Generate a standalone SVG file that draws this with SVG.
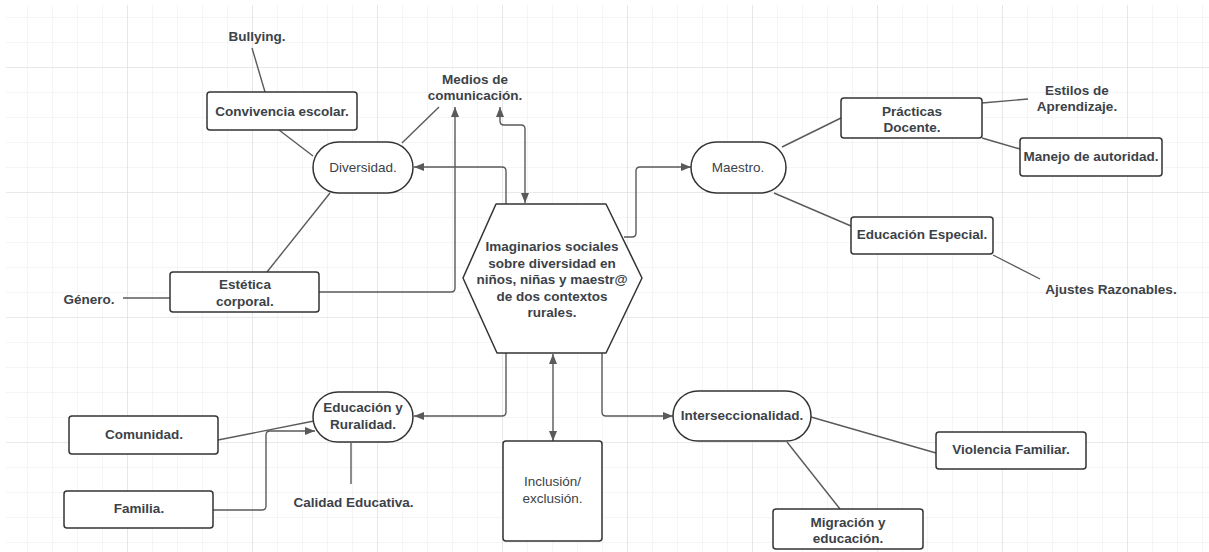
<svg xmlns="http://www.w3.org/2000/svg" width="1209" height="552" viewBox="0 0 1209 552">
<defs>
<pattern id="gMinor" patternUnits="userSpaceOnUse" x="2" y="17" width="25" height="25">
<path d="M0,0 V25 M0,0 H25" fill="none" stroke="#ececec" stroke-width="1"/>
</pattern>
<pattern id="gMajor" patternUnits="userSpaceOnUse" x="2" y="67" width="125" height="125">
<path d="M0,0 V125 M0,0 H125" fill="none" stroke="#dedede" stroke-width="1.2"/>
</pattern>
<marker id="arr" viewBox="0 0 10 8" refX="10" refY="4" markerWidth="10" markerHeight="8" markerUnits="userSpaceOnUse" orient="auto-start-reverse">
<path d="M0,0 L10,4 L0,8 Z" fill="#5a5a5a"/>
</marker>
<style>
.box{fill:#fff;stroke:#333;stroke-width:1.5}
.ln{fill:none;stroke:#5a5a5a;stroke-width:1.4}
.ar{fill:none;stroke:#5a5a5a;stroke-width:1.4;marker-end:url(#arr)}
.ar2{fill:none;stroke:#5a5a5a;stroke-width:1.4;marker-start:url(#arr);marker-end:url(#arr)}
text{font-family:"Liberation Sans",Arial,sans-serif;font-size:13.5px;fill:#3c4248;text-anchor:middle}
.b{font-weight:bold}
</style>
</defs>
<rect width="1209" height="552" fill="#fff"/>
<rect x="6" y="5" width="1203" height="547" fill="url(#gMinor)"/>
<rect x="6" y="5" width="1203" height="547" fill="url(#gMajor)"/>

<g id="connectors">
<line class="ln" x1="252" y1="48" x2="265" y2="92"/>
<line class="ln" x1="279" y1="130" x2="313" y2="156"/>
<line class="ln" x1="402" y1="143" x2="439" y2="107"/>
<line class="ln" x1="330" y1="193" x2="267" y2="272"/>
<line class="ln" x1="123" y1="298" x2="170" y2="298"/>
<path class="ar" d="M506,204 V171 q0,-4 -4,-4 H414"/>
<path class="ar" d="M319,292 H451 q4,0 4,-4 V107"/>
<path class="ar2" d="M500,107 V121 q0,4 4,4 H521 q4,0 4,4 V203"/>
<path class="ar" d="M624,237 H632 q4,0 4,-4 V171 q0,-4 4,-4 H691"/>
<line class="ln" x1="782" y1="147" x2="841" y2="118"/>
<line class="ln" x1="982" y1="103" x2="1028" y2="99"/>
<line class="ln" x1="982" y1="138" x2="1020" y2="149"/>
<line class="ln" x1="774" y1="193" x2="851" y2="226"/>
<line class="ln" x1="993" y1="255" x2="1040" y2="279"/>
<path class="ar" d="M506,353 V412 q0,4 -4,4 H414"/>
<path class="ar2" d="M553,354 V441"/>
<path class="ar" d="M602,353 V412 q0,4 4,4 H673"/>
<line class="ln" x1="218" y1="440" x2="314" y2="421"/>
<path class="ar" d="M213,510 H262 q4,0 4,-4 V435 q0,-4 4,-4 H315"/>
<line class="ln" x1="351" y1="443" x2="351" y2="484"/>
<line class="ln" x1="811" y1="417" x2="936" y2="453"/>
<line class="ln" x1="787" y1="442" x2="840" y2="509"/>
</g>

<g id="n-bullying"><text class="b" x="257" y="41">Bullying.</text></g>
<g id="n-convivencia"><rect class="box" x="207" y="92" width="150" height="38" rx="3"/><text class="b" x="282" y="116">Convivencia escolar.</text></g>
<g id="n-diversidad"><rect class="box" x="313" y="142" width="100" height="51" rx="25.5"/><text x="363" y="172">Diversidad.</text></g>
<g id="n-medios"><text class="b" x="475" y="84">Medios de</text><text class="b" x="475" y="100">comunicación.</text></g>
<g id="n-estetica"><rect class="box" x="170" y="272" width="149" height="40" rx="3"/><text class="b" x="245" y="289">Estética</text><text class="b" x="245" y="305.5">corporal.</text></g>
<g id="n-genero"><text class="b" x="89" y="304">Género.</text></g>
<g id="n-central"><path class="box" d="M496,204 H606 L642,278 L606,353 H497 L463,278 Z" stroke-linejoin="round"/>
<text class="b" x="552" y="251">Imaginarios sociales</text>
<text class="b" x="552" y="267.5">sobre diversidad en</text>
<text class="b" x="552" y="284">niños, niñas y maestr@</text>
<text class="b" x="552" y="300.5">de dos contextos</text>
<text class="b" x="552" y="317">rurales.</text></g>
<g id="n-maestro"><rect class="box" x="691" y="142" width="95" height="51" rx="25.5"/><text x="738" y="172">Maestro.</text></g>
<g id="n-practicas"><rect class="box" x="841" y="98" width="141" height="40" rx="3"/><text class="b" x="912" y="116">Prácticas</text><text class="b" x="912" y="132">Docente.</text></g>
<g id="n-estilos"><text class="b" x="1077" y="94.5">Estilos de</text><text class="b" x="1077" y="111">Aprendizaje.</text></g>
<g id="n-manejo"><rect class="box" x="1020" y="138" width="142" height="38" rx="3"/><text class="b" x="1091" y="161">Manejo de autoridad.</text></g>
<g id="n-especial"><rect class="box" x="851" y="217" width="142" height="37" rx="3"/><text class="b" x="922" y="239">Educación Especial.</text></g>
<g id="n-ajustes"><text class="b" x="1111" y="294">Ajustes Razonables.</text></g>
<g id="n-ruralidad"><rect class="box" x="313" y="392" width="100" height="50" rx="25"/><text class="b" x="363" y="412">Educación y</text><text class="b" x="363" y="428.5">Ruralidad.</text></g>
<g id="n-comunidad"><rect class="box" x="69" y="416" width="149" height="38" rx="3"/><text class="b" x="144" y="439">Comunidad.</text></g>
<g id="n-familia"><rect class="box" x="64" y="491" width="149" height="37" rx="3"/><text class="b" x="139" y="513">Familia.</text></g>
<g id="n-calidad"><text class="b" x="353.5" y="507">Calidad Educativa.</text></g>
<g id="n-inclusion"><rect class="box" x="503" y="441" width="99" height="100" rx="3"/><text x="552.5" y="486">Inclusión/</text><text x="552.5" y="502.5">exclusión.</text></g>
<g id="n-interseccionalidad"><rect class="box" x="673" y="391" width="138" height="50" rx="25"/><text class="b" x="742" y="420">Interseccionalidad.</text></g>
<g id="n-violencia"><rect class="box" x="936" y="432" width="150" height="37" rx="3"/><text class="b" x="1011" y="454">Violencia Familiar.</text></g>
<g id="n-migracion"><rect class="box" x="773" y="509" width="150" height="40" rx="3"/><text class="b" x="848" y="527">Migración y</text><text class="b" x="848" y="543">educación.</text></g>
</svg>
